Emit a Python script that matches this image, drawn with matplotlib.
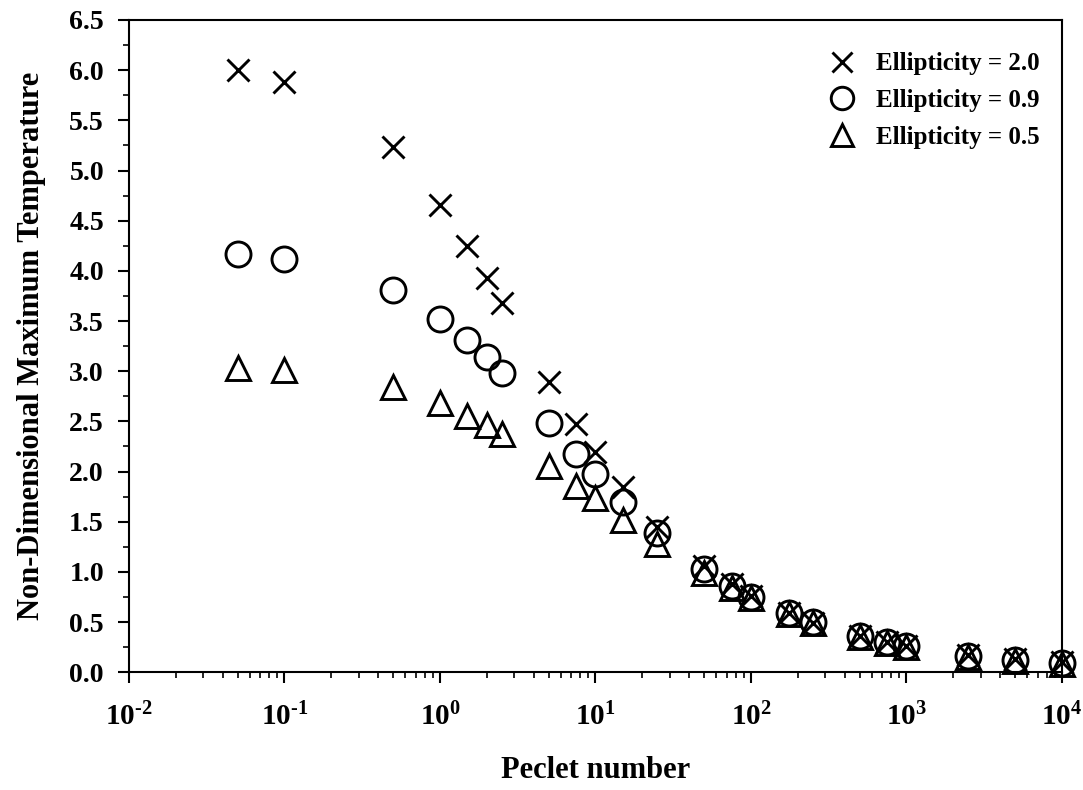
import numpy as np
import matplotlib
matplotlib.use('Agg')
import matplotlib.pyplot as plt
from matplotlib.ticker import FuncFormatter, MultipleLocator, LogLocator, NullFormatter

plt.rcParams['font.family'] = 'Liberation Serif'
plt.rcParams['font.weight'] = 'bold'
plt.rcParams['mathtext.fontset'] = 'custom'
plt.rcParams['mathtext.rm'] = 'Liberation Serif:bold'
plt.rcParams['mathtext.bf'] = 'Liberation Serif:bold'

# Peclet numbers used in every run
peclet = [0.05, 0.1, 0.5, 1, 1.5, 2, 2.5, 5, 7.5, 10, 15, 25, 50, 75, 100,
          175, 250, 500, 750, 1000, 2500, 5000, 10000]

# max temperature for each ellipticity
temp_e20 = [6.00, 5.88, 5.23, 4.66, 4.25, 3.93, 3.68, 2.89, 2.47, 2.20, 1.85,
            1.45, 1.06, 0.88, 0.76, 0.59, 0.49, 0.36, 0.30, 0.26, 0.17, 0.13, 0.10]
temp_e09 = [4.17, 4.12, 3.81, 3.52, 3.31, 3.14, 2.98, 2.48, 2.18, 1.98, 1.70,
            1.39, 1.03, 0.86, 0.75, 0.59, 0.50, 0.36, 0.30, 0.26, 0.16, 0.12, 0.09]
temp_e05 = [3.03, 3.01, 2.84, 2.68, 2.55, 2.46, 2.37, 2.06, 1.86, 1.74, 1.52,
            1.28, 0.99, 0.84, 0.74, 0.58, 0.49, 0.35, 0.29, 0.25, 0.15, 0.11, 0.08]

fig = plt.figure(figsize=(10.83, 7.9), dpi=100)
ax = fig.add_axes([0.1191, 0.149, 0.8615, 0.8257])

ax.plot(peclet, temp_e20, 'x', color='black', markersize=16, mew=2.1,
        label='Ellipticity = 2.0', clip_on=False)
ax.plot(peclet, temp_e09, 'o', color='black', mfc='none', markersize=18, mew=2.1,
        label='Ellipticity = 0.9', clip_on=False)
ax.plot(peclet, temp_e05, '^', color='black', mfc='none', markersize=17, mew=2.1,
        label='Ellipticity = 0.5', clip_on=False)

ax.set_xscale('log')
ax.set_xlim(1e-2, 1e4)
ax.set_ylim(0, 6.5)

def dec_label(v, p):
    e = int(round(np.log10(v)))
    if e < 0:
        return r'$\mathbf{10^{\text{-}%d}}$' % -e
    return r'$\mathbf{10^{%d}}$' % e

ax.xaxis.set_major_locator(LogLocator(base=10, numticks=10))
ax.xaxis.set_minor_locator(LogLocator(base=10, subs=np.arange(2, 10), numticks=20))
ax.xaxis.set_minor_formatter(NullFormatter())
ax.xaxis.set_major_formatter(FuncFormatter(dec_label))
ax.yaxis.set_major_locator(MultipleLocator(0.5))
ax.yaxis.set_minor_locator(MultipleLocator(0.25))
ax.yaxis.set_major_formatter(FuncFormatter(lambda v, p: '%.1f' % v))

ax.tick_params(which='major', direction='out', length=8, width=1.5, labelsize=20, pad=10)
ax.tick_params(axis='x', which='major', labelsize=21, pad=14)
ax.tick_params(which='minor', direction='out', length=4.5, width=1.2)
for s in ax.spines.values():
    s.set_linewidth(1.5)

ax.set_xlabel('Peclet number', fontsize=22, fontweight='bold', labelpad=18)
ax.set_ylabel('Non-Dimensional Maximum Temperature', fontsize=22, fontweight='bold', labelpad=17)

leg = ax.legend(loc='upper right', bbox_to_anchor=(1.0, 0.985), frameon=False,
                fontsize=18, markerscale=0.9, handlelength=1.6,
                handletextpad=0.55, labelspacing=0.55, borderaxespad=0.5)

fig.savefig('out.png', dpi=100)
